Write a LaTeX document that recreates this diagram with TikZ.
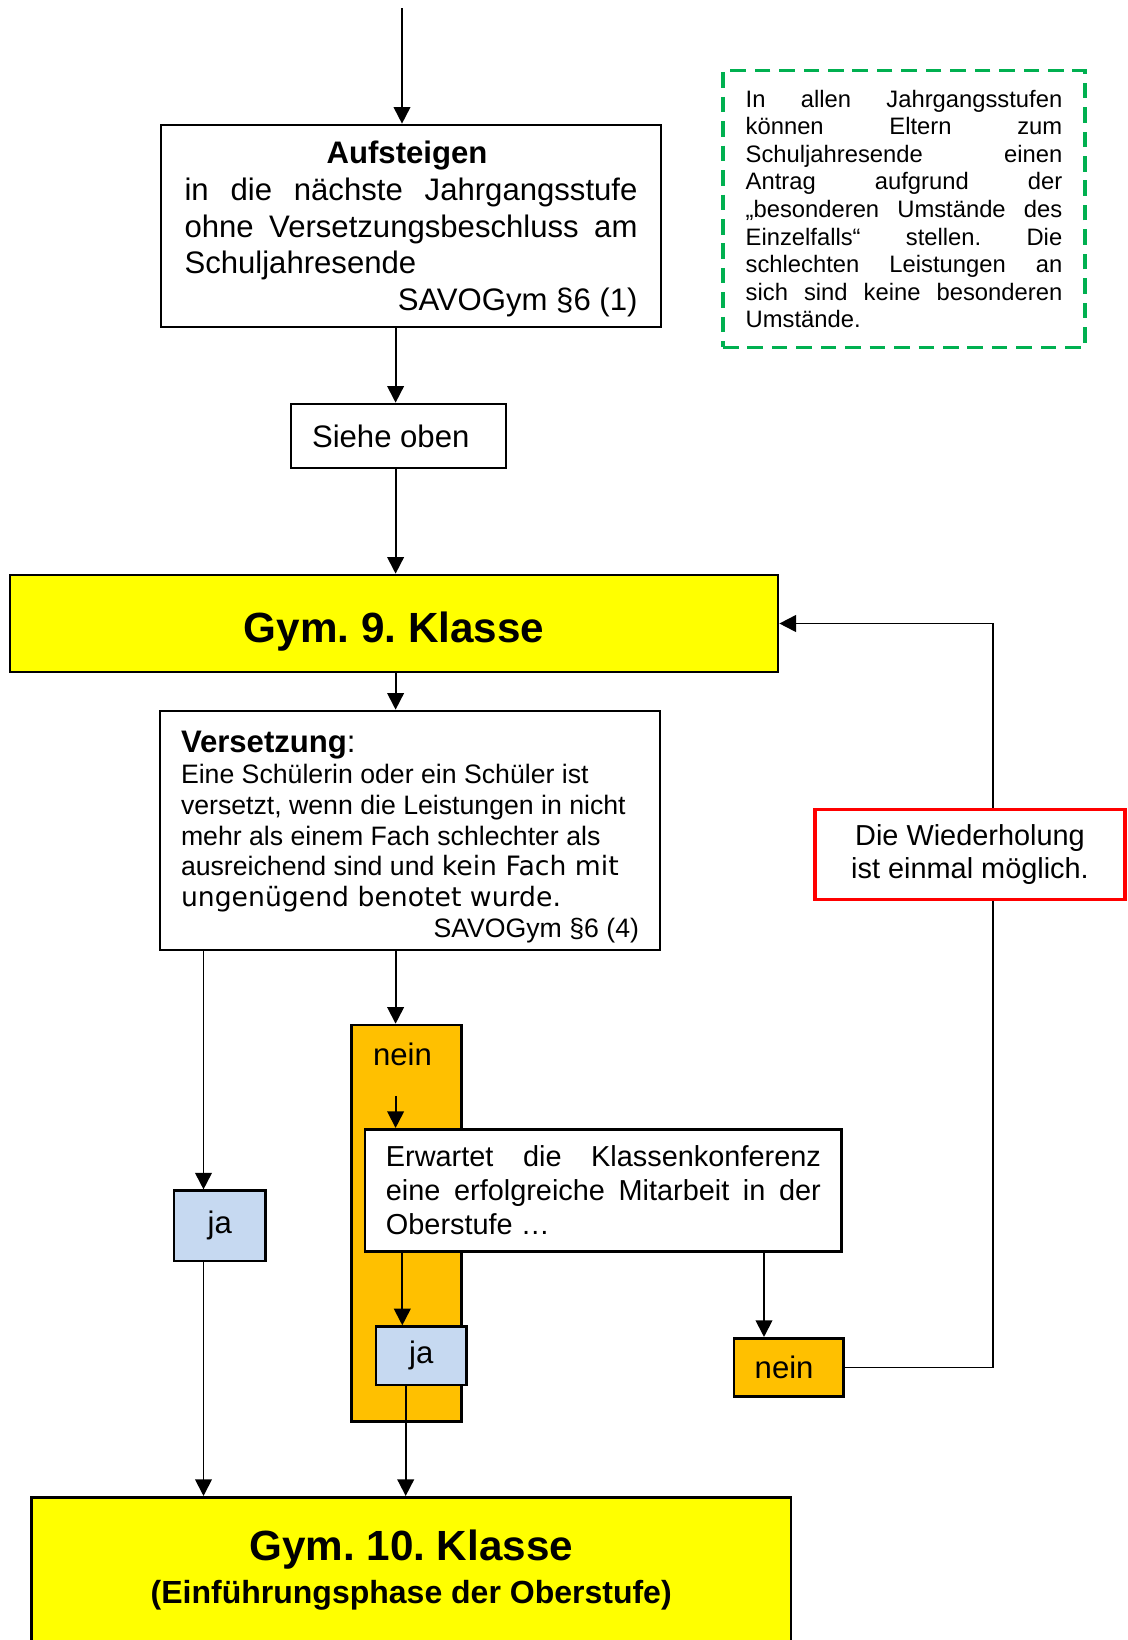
\documentclass[tikz,border=0pt]{standalone}
\usepackage{fontspec}
\setmainfont{Liberation Sans}
\newfontfamily\dejavu{DejaVu Sans}
\usetikzlibrary{arrows.meta,positioning}

\newdimen\pxu
\pxu=0.45pt
\definecolor{gelb}{HTML}{FFFF00}
\definecolor{neinorange}{HTML}{FFC000}
\definecolor{jablau}{HTML}{C6D9F1}
\definecolor{hinweisgruen}{HTML}{00B050}
\definecolor{warnrot}{HTML}{FF0000}

\newcommand{\spread}[1]{\makebox[\linewidth][s]{\spaceskip=0pt\xspaceskip=0pt #1}}

\tikzset{
	every node/.style={execute at begin node={\spaceskip=0pt\xspaceskip=0pt\frenchspacing}},
	box/.style={draw, line width=1.2pt, fill=white, inner sep=0pt},
	klasse/.style={box, fill=gelb, font=\bfseries},
	arr/.style={line width=0.85pt, -{Triangle[length=7.5pt,width=7.5pt]}}
}

\begin{document}
\frenchspacing
\begin{tikzpicture}[x=0.45pt, y=-0.45pt]
	\useasboundingbox (0,0) rectangle (1128,1640);

	% Hinweis
	\node[draw=hinweisgruen, line width=1.4pt, dash pattern=on 7pt off 4pt, inner sep=0pt,
		minimum width=362\pxu, minimum height=276.6\pxu, text width=316.6\pxu, align=left,
		font=\fontsize{10.7}{12.4}\selectfont] (hinweis) at (904,209)
		{\spread{In allen Jahrgangsstufen}\\
		\spread{können Eltern zum}\\
		\spread{Schuljahresende einen}\\
		\spread{Antrag aufgrund der}\\
		\spread{„besonderen Umstände des}\\
		\spread{Einzelfalls“ stellen. Die}\\
		\spread{schlechten Leistungen an}\\
		\spread{sich sind keine besonderen}\\
		Umstände.};

	\node[box, minimum width=500\pxu, minimum height=202\pxu, text width=453\pxu, align=left,
		font=\fontsize{14}{16.5}\selectfont] (auf) at (411,226)
		{\makebox[\linewidth][c]{\rule{0pt}{12.9pt}\bfseries Aufsteigen\hspace{8\pxu}}\\
		\spread{in die nächste Jahrgangsstufe}\\
		\spread{ohne Versetzungsbeschluss am}\\
		Schuljahresende\\
		\makebox[\linewidth][r]{SAVOGym §6 (1)}};

	\node[box, minimum width=215\pxu, minimum height=64\pxu, text width=173\pxu, align=left,
		font=\fontsize{14}{16.5}\selectfont] (siehe) at (398.5,436) {Siehe oben};

	\node[klasse, minimum width=768\pxu, minimum height=97\pxu, text height=38\pxu, text depth=0pt,
		font=\bfseries\fontsize{19}{22}\selectfont] (neun) at (394,623.5) {Gym. 9. Klasse};

	\node[box, minimum width=500\pxu, minimum height=239\pxu, text width=458\pxu, align=left,
		font=\fontsize{12}{13.9}\selectfont] (vers) at (410,830.5)
		{{\fontsize{14}{13.9}\selectfont\rule{0pt}{15.6pt}\textbf{Versetzung}:}\\
		Eine Schülerin oder ein Schüler ist\\
		versetzt, wenn die Leistungen in nicht\\
		mehr als einem Fach schlechter als\\
		ausreichend sind und {\dejavu kein Fach mit}\\
		{\dejavu ungenügend benotet wurde.}\\
		\makebox[\linewidth][r]{SAVOGym §6 (4)}};

	\node[box, fill=neinorange, minimum width=110\pxu, minimum height=396.7\pxu] (neinA) at (406.7,1223.4) {};
	\node[anchor=base, inner sep=0pt, font=\fontsize{14}{16.5}\selectfont] (neinAtxt) at (402.5,1065) {nein};

	\node[box, minimum width=476.7\pxu, minimum height=122.4\pxu, text width=435\pxu, align=left,
		font=\fontsize{13}{15.3}\selectfont] (erw) at (603.4,1190.5)
		{\spread{Erwartet die Klassenkonferenz}\\
		\spread{eine erfolgreiche Mitarbeit in der}\\
		Oberstufe …};

	\node[box, fill=jablau, minimum width=91.3\pxu, minimum height=70.3\pxu,
		font=\fontsize{14}{16.5}\selectfont] (jaA) at (219.7,1225.9) {ja};
	\node[box, fill=jablau, minimum width=90.7\pxu, minimum height=58.3\pxu,
		font=\fontsize{14}{16.5}\selectfont] (jaB) at (421.3,1355.8) {ja};
	\node[box, fill=neinorange, minimum width=109.3\pxu, minimum height=58.4\pxu, text width=68\pxu, align=left,
		font=\fontsize{14}{16.5}\selectfont] (neinB) at (788.7,1367.5) {nein};

	\node[klasse, minimum width=759.6\pxu, minimum height=146\pxu, align=center,
		font=\bfseries\fontsize{14.4}{19.35}\selectfont] (zehn) at (411.2,1570.3)
		{{\fontsize{19}{19.35}\selectfont Gym. 10. Klasse}\\
		(Einführungsphase der Oberstufe)};

	% Spalten der Verbindungen
	\coordinate (start) at (402,8);
	\coordinate (mitte) at (395.6,0);
	\coordinate (links) at (203.5,0);
	\coordinate (jaspalte) at (402.3,0);
	\coordinate (jaunten) at (405.7,0);
	\coordinate (rechts) at (764,0);
	\coordinate (zurueck) at (993,0);

	\draw[arr] (start) -- (start |- auf.north);
	\draw[arr] (auf.south -| mitte) -- (siehe.north -| mitte);
	\draw[arr] (siehe.south -| mitte) -- (neun.north -| mitte);
	\draw[arr] (neun.south -| mitte) -- (vers.north -| mitte);
	\draw[arr] (vers.south -| links) -- (jaA.north -| links);
	\draw[arr] (jaA.south -| links) -- (zehn.north -| links);
	\draw[arr] (vers.south -| mitte) -- (neinA.north -| mitte);
	\draw[arr, shorten <=30\pxu] (neinAtxt.south -| mitte) -- (erw.north -| mitte);
	\draw[arr] (erw.south -| jaspalte) -- (jaB.north -| jaspalte);
	\draw[arr] (jaB.south -| jaunten) -- (zehn.north -| jaunten);
	\draw[arr] (erw.south -| rechts) -- (neinB.north -| rechts);
	\draw[arr] (neinB.east) -- (neinB.east -| zurueck) -- (zurueck |- neun.east) -- (neun.east);

	\node[box, draw=warnrot, line width=1.6pt, minimum width=310\pxu, minimum height=90\pxu, align=center,
		font=\fontsize{13}{14.6}\selectfont] (wdh) at (970,854.3)
		{Die Wiederholung\\ist einmal möglich.};
\end{tikzpicture}
\end{document}
